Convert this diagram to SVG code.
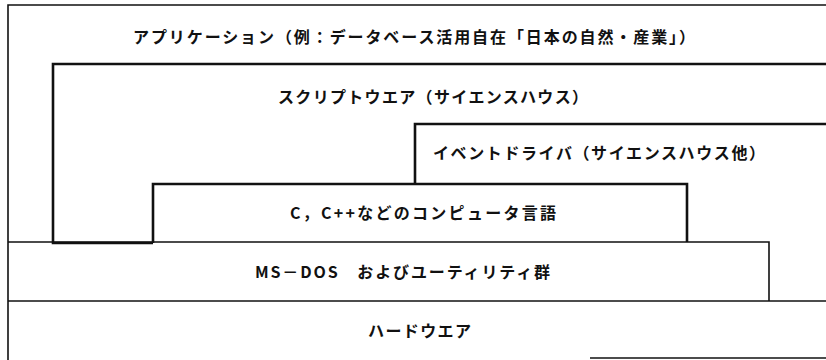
<svg xmlns="http://www.w3.org/2000/svg" width="826" height="360" viewBox="0 0 826 360">
<style>
.bg{fill:#ffffff}
.thin{fill:none;stroke:#111;stroke-width:1.6}
.thick{fill:none;stroke:#111;stroke-width:2.6}
.lbl{font-family:"Noto Sans CJK JP","Noto Sans",sans-serif;font-size:16px;font-weight:700;fill:#111}
</style>
<rect class="bg" x="0" y="0" width="826" height="360"/>
<g id="layer-application">
<path class="thin" d="M826,5 H8 V360"/>
<text class="lbl" x="133" y="43" textLength="562" lengthAdjust="spacing">アプリケーション（例：データベース活用自在「日本の自然・産業」）</text>
</g>
<g id="layer-scriptware">
<path class="thick" d="M826,64 H53 V243 H153"/>
<text class="lbl" x="278" y="103" textLength="310" lengthAdjust="spacing">スクリプトウエア（サイエンスハウス）</text>
</g>
<g id="layer-eventdriver">
<path class="thick" d="M415,184 V124 H826"/>
<text class="lbl" x="433" y="159" textLength="332" lengthAdjust="spacing">イベントドライバ（サイエンスハウス他）</text>
</g>
<g id="layer-languages">
<path class="thick" d="M153,243 V184 H687 V242"/>
<text class="lbl" x="290" y="219" textLength="266" lengthAdjust="spacing">C，C++などのコンピュータ言語</text>
</g>
<g id="layer-msdos">
<path class="thin" d="M8,242 H769 V301"/>
<text class="lbl" x="255" y="278" textLength="295" lengthAdjust="spacing">MS－DOS　およびユーティリティ群</text>
</g>
<g id="layer-hardware">
<path class="thin" d="M8,301 H826"/>
<path class="thin" d="M590,358 H826"/>
<text class="lbl" x="368" y="337" textLength="103" lengthAdjust="spacing">ハードウエア</text>
</g>
</svg>
